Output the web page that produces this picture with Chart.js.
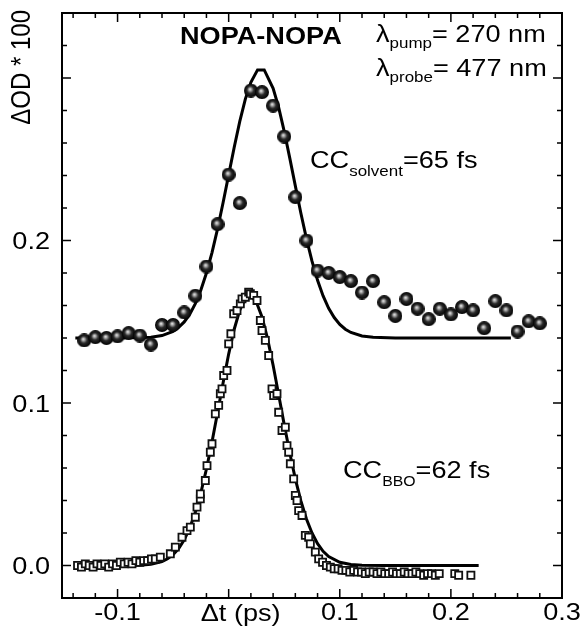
<!DOCTYPE html>
<html>
<head>
<meta charset="utf-8">
<script src="https://cdn.jsdelivr.net/npm/chart.js@4.4.1/dist/chart.umd.min.js"></script>
<style>
html, body { margin: 0; padding: 0; background: #fff; }
</style>
</head>
<body>
<canvas id="grafiek" width="581" height="637"></canvas>
<script>
// meetpunten oplosmiddel (bollen), x in ps, y in dOD*100
let solvX = [-0.13, -0.12, -0.11, -0.10, -0.09, -0.08, -0.07, -0.06, -0.05, -0.04, -0.03, -0.02, -0.01, 0.00,
  0.01, 0.02, 0.03, 0.04, 0.05, 0.06, 0.07, 0.08, 0.09, 0.10, 0.11, 0.12, 0.13, 0.14, 0.15, 0.16, 0.17,
  0.18, 0.19, 0.20, 0.21, 0.22, 0.23, 0.24, 0.25, 0.26, 0.27, 0.28]
let solvY = [0.1385, 0.1405, 0.140, 0.141, 0.143, 0.1415, 0.136, 0.148, 0.148, 0.1557, 0.166, 0.184, 0.210, 0.2406,
  0.223, 0.2923, 0.2913, 0.283, 0.264, 0.2267, 0.200, 0.1815, 0.180, 0.1775, 0.175, 0.168, 0.175, 0.162, 0.1536,
  0.164, 0.158, 0.1516, 0.158, 0.1545, 0.159, 0.157, 0.146, 0.1627, 0.157, 0.144, 0.1503, 0.149]

// fit oplosmiddel (lijn)
let solvFitX = [-0.138, -0.10, -0.07, -0.06, -0.05, -0.045, -0.04, -0.035, -0.03, -0.025, -0.02, -0.015, -0.01, -0.005,
  0.00, 0.005, 0.01, 0.015, 0.02, 0.026, 0.032, 0.04, 0.045, 0.05, 0.055, 0.06, 0.065, 0.07, 0.075, 0.08, 0.085,
  0.09, 0.095, 0.10, 0.105, 0.11, 0.12, 0.13, 0.15, 0.254]
let solvFitY = [0.140, 0.140, 0.1405, 0.1415, 0.1441, 0.1465, 0.1499, 0.1547, 0.1611, 0.1695, 0.180, 0.1926, 0.2072, 0.2234,
  0.2404, 0.2574, 0.2733, 0.287, 0.2973, 0.305, 0.305, 0.2937, 0.2819, 0.2672, 0.2507, 0.2336, 0.2168, 0.2012, 0.1873, 0.1755, 0.1659,
  0.1583, 0.1526, 0.1484, 0.1454, 0.1434, 0.1412, 0.1404, 0.140, 0.140]

// meetpunten BBO (open vierkantjes)
let bboX = [-0.136, -0.1325, -0.129, -0.1255, -0.122, -0.1185, -0.115, -0.1115, -0.108, -0.1045, -0.101, -0.0975,
  -0.094, -0.0905, -0.087, -0.0835, -0.080, -0.0765, -0.073, -0.0695, -0.066,
  -0.0615, -0.0525, -0.048, -0.042, -0.0375, -0.0345, -0.030, -0.0285, -0.0255, -0.0255, -0.021, -0.0195, -0.0165,
  -0.015, -0.012, -0.009, -0.0075, -0.006, -0.0045, -0.0015, 0.000, 0.002, 0.0045, 0.0075, 0.0105, 0.012, 0.015,
  0.018, 0.0195, 0.0225, 0.0255, 0.0285, 0.030, 0.033, 0.036, 0.039, 0.0405, 0.0435, 0.045, 0.048, 0.051, 0.0525,
  0.054, 0.0555, 0.0585, 0.060, 0.0615, 0.063, 0.066, 0.069, 0.072, 0.0735, 0.078, 0.081,
  0.0845, 0.088, 0.0915, 0.095, 0.0985, 0.102, 0.1055, 0.109, 0.1125, 0.116, 0.1195, 0.123, 0.1265, 0.130, 0.1335,
  0.137, 0.1405, 0.144, 0.1475, 0.151, 0.1545, 0.158, 0.1615, 0.165, 0.1685, 0.172, 0.1755, 0.179, 0.1825, 0.186,
  0.1895, 0.2035, 0.207, 0.218]
let bboY = [0.000, -0.001, 0.001, 0.000, -0.001, 0.001, 0.000, 0.001, -0.001, 0.001, 0.000, 0.002,
  0.001, 0.002, 0.001, 0.003, 0.002, 0.003, 0.003, 0.004, 0.004,
  0.0051, 0.0072, 0.0113, 0.0174, 0.0215, 0.0236, 0.0297, 0.0359, 0.041, 0.044, 0.0523, 0.0615, 0.0697,
  0.0749, 0.0933, 0.0985, 0.1057, 0.1087, 0.1169, 0.120, 0.1364, 0.1426, 0.1549, 0.1569, 0.161, 0.1641, 0.1651,
  0.1682, 0.1672, 0.1662, 0.1631, 0.1508, 0.1446, 0.1385, 0.1292, 0.1087, 0.1046, 0.1057, 0.0943, 0.0831, 0.0851, 0.0738,
  0.0697, 0.0626, 0.0533, 0.0431, 0.040, 0.0338, 0.0308, 0.0185, 0.0174, 0.0133, 0.0082, 0.0041,
  0.002, 0.000, -0.001, -0.002, -0.002, -0.003, -0.003, -0.004, -0.003, -0.004, -0.004, -0.005, -0.004, -0.004, -0.005,
  -0.004, -0.005, -0.005, -0.004, -0.005, -0.005, -0.004, -0.005, -0.005, -0.004, -0.005, -0.006, -0.005, -0.005, -0.006,
  -0.005, -0.005, -0.006, -0.006]

// fit BBO (lijn)
let bboFitX = [-0.137, -0.10, -0.08, -0.07, -0.06, -0.055, -0.05, -0.045, -0.04, -0.035, -0.03, -0.025, -0.02, -0.015,
  -0.01, -0.005, 0.00, 0.005, 0.01, 0.015, 0.02, 0.025, 0.03, 0.035, 0.04, 0.045, 0.05, 0.055, 0.06, 0.065, 0.07,
  0.075, 0.08, 0.085, 0.09, 0.10, 0.11, 0.12, 0.14, 0.225]
let bboFitY = [0.000, 0.000, 0.0002, 0.0008, 0.0024, 0.0041, 0.0067, 0.0104, 0.0158, 0.0231, 0.0328, 0.0449, 0.0594, 0.076,
  0.0941, 0.1125, 0.1301, 0.1454, 0.1572, 0.1642, 0.166, 0.162, 0.153, 0.1396, 0.1232, 0.1051, 0.0867, 0.0692, 0.0533, 0.0397, 0.0286,
  0.020, 0.0134, 0.0087, 0.0055, 0.002, 0.0006, 0.0002, 0.000, 0.000]

// tekstlabels bij de assen
let yTickLabels = [0.0, 0.1, 0.2]
let xTickLabels = [-0.1, 0.1, 0.2, 0.3]

const fnt = "'Liberation Sans', Arial, sans-serif"
const rek = 1.13 // tekst in het origineel is iets breder uitgerekt

function zip(xs, ys) { return xs.map((x, i) => ({ x: x, y: ys[i] })) }

// bolletje met glans als puntstijl
function maakBol(r) {
  const c = document.createElement('canvas')
  c.width = c.height = r * 2
  const g = c.getContext('2d')
  const grad = g.createRadialGradient(r * 0.85, r * 0.8, 0, r, r, r)
  grad.addColorStop(0, '#f2f2f2')
  grad.addColorStop(0.22, '#a0a0a0')
  grad.addColorStop(0.5, '#2a2a2a')
  grad.addColorStop(1, '#000')
  g.fillStyle = grad
  g.beginPath(); g.arc(r, r, r, 0, Math.PI * 2); g.fill()
  return c
}
const bol = maakBol(7)

// tekst (met subscript) op x,y; uitlijning 'left', 'center' of 'right'
function tekst(ctx, x, y, delen, uitlijning) {
  let breedte = 0
  for (const d of delen) {
    ctx.font = (d.bold ? 'bold ' : '') + d.size + 'px ' + fnt
    breedte += ctx.measureText(d.t).width
  }
  let start = 0
  if (uitlijning === 'center') start = -breedte / 2
  if (uitlijning === 'right') start = -breedte
  ctx.save()
  ctx.translate(x, y)
  ctx.scale(rek, 1)
  ctx.textAlign = 'left'
  ctx.textBaseline = 'alphabetic'
  for (const d of delen) {
    ctx.font = (d.bold ? 'bold ' : '') + d.size + 'px ' + fnt
    ctx.fillText(d.t, start, d.dy || 0)
    start += ctx.measureText(d.t).width
  }
  ctx.restore()
}

const kader = {
  id: 'kader',
  afterDraw(chart) {
    const ctx = chart.ctx, a = chart.chartArea, sx = chart.scales.x, sy = chart.scales.y
    ctx.save()
    ctx.strokeStyle = '#000'
    ctx.lineWidth = 2
    ctx.strokeRect(a.left, a.top, a.right - a.left, a.bottom - a.top)
    ctx.lineWidth = 1.5
    ctx.beginPath()
    for (let k = Math.ceil(sx.min / 0.02 - 1e-6); k <= Math.floor(sx.max / 0.02 + 1e-6); k++) {
      const px = sx.getPixelForValue(k * 0.02)
      const len = k % 5 === 0 ? 9 : 5
      ctx.moveTo(px, a.bottom); ctx.lineTo(px, a.bottom - len)
      ctx.moveTo(px, a.top); ctx.lineTo(px, a.top + len)
    }
    for (let k = Math.ceil(sy.min / 0.02 - 1e-6); k <= Math.floor(sy.max / 0.02 + 1e-6); k++) {
      const py = sy.getPixelForValue(k * 0.02)
      const len = k % 5 === 0 ? 9 : 5
      ctx.moveTo(a.left, py); ctx.lineTo(a.left + len, py)
      ctx.moveTo(a.right, py); ctx.lineTo(a.right - len, py)
    }
    ctx.stroke()

    ctx.fillStyle = '#000'
    // waarden langs de assen
    for (const v of yTickLabels) tekst(ctx, a.left - 12, sy.getPixelForValue(v) + 8.5, [{ t: v.toFixed(1), size: 24 }], 'right')
    for (const v of xTickLabels) tekst(ctx, sx.getPixelForValue(v), 620, [{ t: v.toFixed(1), size: 24 }], 'center')

    // as-titels
    tekst(ctx, sx.getPixelForValue(0) + 12, 621, [{ t: '\u0394t (ps)', size: 24 }], 'center')
    ctx.save()
    ctx.translate(30, a.top - 3)
    ctx.rotate(-Math.PI / 2)
    ctx.font = '24px ' + fnt
    ctx.textAlign = 'right'
    ctx.scale(1, rek)
    ctx.fillText('\u0394OD * 100', 0, 0)
    ctx.restore()

    tekst(ctx, 180, 44, [{ t: 'NOPA-NOPA', size: 24, bold: true }])
    tekst(ctx, 376, 42, [{ t: '\u03bb', size: 24 }, { t: 'pump', size: 15, dy: 6 }, { t: '= 270 nm', size: 24 }])
    tekst(ctx, 376, 76, [{ t: '\u03bb', size: 24 }, { t: 'probe', size: 15, dy: 6 }, { t: '= 477 nm', size: 24 }])
    tekst(ctx, 310, 168, [{ t: 'CC', size: 24 }, { t: 'solvent', size: 15, dy: 8 }, { t: '=65 fs', size: 24 }])
    tekst(ctx, 343, 478, [{ t: 'CC', size: 24 }, { t: 'BBO', size: 14, dy: 8 }, { t: '=62 fs', size: 24 }])
    ctx.restore()
  }
}

let grafiek = new Chart(document.getElementById('grafiek').getContext('2d'), {
  type: 'scatter',
  data: {
    datasets: [
      { data: zip(solvX, solvY), pointStyle: bol, pointRadius: 7, order: 0 },
      { data: zip(bboX, bboY), pointStyle: 'rect', pointRadius: 5, borderWidth: 1.8,
        borderColor: '#111', backgroundColor: '#fff', order: 1 },
      { data: zip(solvFitX, solvFitY), showLine: true, pointRadius: 0, borderColor: '#000',
        borderWidth: 3, tension: 0, order: 2 },
      { data: zip(bboFitX, bboFitY), showLine: true, pointRadius: 0, borderColor: '#000',
        borderWidth: 3, tension: 0, order: 2 }
    ]
  },
  options: {
    responsive: false,
    animation: false,
    layout: { padding: { top: 13, right: 19, left: 0, bottom: 0 } },
    plugins: { legend: { display: false }, tooltip: { enabled: false } },
    scales: {
      x: {
        min: -0.15, max: 0.3,
        grid: { display: false, drawTicks: false },
        border: { display: false },
        ticks: { display: false },
        afterFit: s => { s.height = 39 }
      },
      y: {
        min: -0.02, max: 0.34,
        grid: { display: false, drawTicks: false },
        border: { display: false },
        ticks: { display: false },
        afterFit: s => { s.width = 62 }
      }
    }
  },
  plugins: [kader]
})
</script>
</body>
</html>
